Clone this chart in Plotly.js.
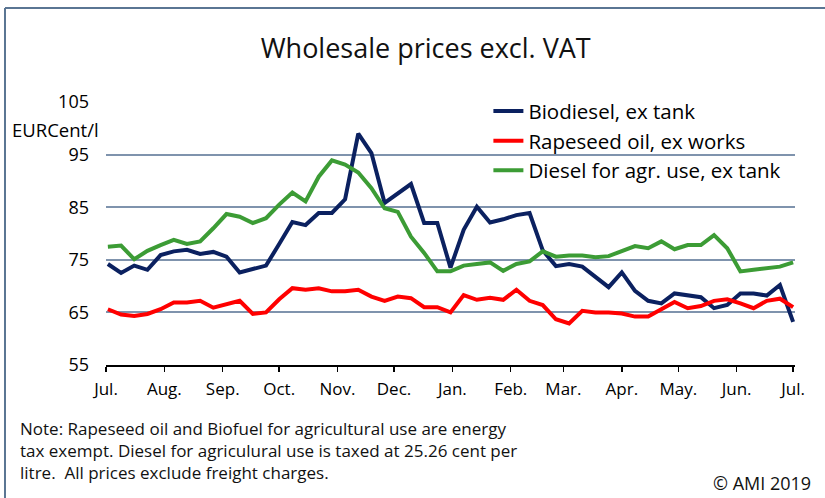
<!DOCTYPE html>
<html>
<head>
<meta charset="utf-8">
<script src="https://cdn.plot.ly/plotly-3.0.1.min.js"></script>
<style>
html,body{margin:0;padding:0;background:#fff;}
#chart{width:825px;height:498px;}
</style>
</head>
<body>
<div id="chart"></div>
<script>
// Weekly observation dates
var weeks = [
  "2018-07-02","2018-07-09","2018-07-16","2018-07-23","2018-07-30",
  "2018-08-06","2018-08-13","2018-08-20","2018-08-27",
  "2018-09-03","2018-09-10","2018-09-17","2018-09-24",
  "2018-10-01","2018-10-08","2018-10-15","2018-10-22","2018-10-29",
  "2018-11-05","2018-11-12","2018-11-19","2018-11-26",
  "2018-12-03","2018-12-10","2018-12-17","2018-12-24","2018-12-31",
  "2019-01-07","2019-01-14","2019-01-21","2019-01-28",
  "2019-02-04","2019-02-11","2019-02-18","2019-02-25",
  "2019-03-04","2019-03-11","2019-03-18","2019-03-25",
  "2019-04-01","2019-04-08","2019-04-15","2019-04-22","2019-04-29",
  "2019-05-06","2019-05-13","2019-05-20","2019-05-27",
  "2019-06-03","2019-06-10","2019-06-17","2019-06-24",
  "2019-07-01"
];

// EURCent/l
var biodiesel = [
  74.2,72.5,73.9,73.1,75.9,76.6,76.9,76.1,76.5,75.6,72.6,73.2,73.9,
  78.0,82.2,81.6,83.9,83.9,86.5,99.0,95.3,85.8,87.5,89.4,82.0,82.0,73.5,
  80.7,85.1,82.1,82.7,83.5,83.9,76.8,73.8,74.2,73.7,71.8,69.8,72.6,69.1,
  67.2,66.7,68.6,68.3,67.9,65.8,66.4,68.6,68.6,68.2,70.2,63.2
];
var rapeseedOil = [
  65.6,64.6,64.3,64.7,65.6,66.9,66.9,67.2,65.9,66.6,67.2,64.7,65.0,
  67.5,69.6,69.3,69.6,69.0,69.0,69.3,68.0,67.2,68.0,67.7,66.0,66.0,65.0,
  68.3,67.4,67.8,67.4,69.3,67.2,66.4,63.7,62.9,65.3,65.0,65.0,64.8,64.2,
  64.2,65.6,67.0,65.8,66.2,67.2,67.5,66.7,65.8,67.2,67.6,66.0
];
var dieselAgr = [
  77.5,77.7,75.1,76.7,77.8,78.8,78.0,78.5,81.0,83.7,83.2,82.0,82.9,
  85.5,87.8,86.1,90.8,93.9,93.1,91.6,88.6,84.8,84.1,79.4,76.3,72.8,72.8,
  73.9,74.2,74.5,72.9,74.2,74.7,76.6,75.6,75.8,75.8,75.5,75.7,76.6,77.6,
  77.2,78.5,77.0,77.8,77.8,79.7,77.2,72.8,73.1,73.4,73.7,74.5
];

var seriesNames = ["Biodiesel, ex tank","Rapeseed oil, ex works","Diesel for agr. use, ex tank"];

var monthTicks = ["2018-07-01","2018-08-01","2018-09-01","2018-10-01","2018-11-01","2018-12-01",
  "2019-01-01","2019-02-01","2019-03-01","2019-04-01","2019-05-01","2019-06-01","2019-07-01"];
var monthLabels = ["Jul.","Aug.","Sep.","Oct.","Nov.","Dec.","Jan.","Feb.","Mar.","Apr.","May.","Jun.","Jul."];
var yTicks = [55,65,75,85,95,105];

var FONT = "Open Sans, Noto Sans, DejaVu Sans, sans-serif";

var traces = [
  {x: weeks, y: biodiesel, name: seriesNames[0], type: "scatter", mode: "lines",
   line: {color: "#0b2160", width: 4}},
  {x: weeks, y: rapeseedOil, name: seriesNames[1], type: "scatter", mode: "lines",
   line: {color: "#ff0000", width: 4}},
  {x: weeks, y: dieselAgr, name: seriesNames[2], type: "scatter", mode: "lines",
   line: {color: "#3c9c35", width: 4}}
];

var layout = {
  width: 825, height: 498,
  margin: {l: 106, r: 30, t: 102, b: 133},
  paper_bgcolor: "#ffffff", plot_bgcolor: "#ffffff",
  font: {family: FONT, color: "#000"},
  title: {text: "Wholesale prices excl. VAT", font: {family: FONT, size: 27, color: "#111"},
          xref: "container", x: 0.516, xanchor: "center", yref: "container", y: 0.903, yanchor: "middle"},
  showlegend: true,
  legend: {x: 0.555, y: 1.041, xanchor: "left", yanchor: "top", bgcolor: "rgba(0,0,0,0)",
           font: {family: FONT, size: 20.5, color: "#000"}, tracegroupgap: 0},
  xaxis: {
    type: "date", range: ["2018-07-01", "2019-07-02"],
    tickmode: "array", tickvals: monthTicks, ticktext: monthLabels,
    showgrid: false, zeroline: false,
    showline: true, linecolor: "#000", linewidth: 1.5,
    ticks: "outside", ticklen: 5, tickwidth: 1.5, tickcolor: "#000",
    ticklabelstandoff: 3,
    tickfont: {family: FONT, size: 17, color: "#000"}
  },
  yaxis: {
    range: [55, 105], tickmode: "array", tickvals: yTicks,
    showgrid: true, gridcolor: "#7f93ad", gridwidth: 2,
    zeroline: false, showline: false, ticks: "",
    ticklabelstandoff: 16,
    tickfont: {family: FONT, size: 18, color: "#000"}
  },
  shapes: [
    {type: "line", xref: "paper", yref: "paper", x0: -0.1466, x1: -0.1466, y0: 1.3574, y1: -0.52,
     line: {color: "#5a7593", width: 2}},
    {type: "line", xref: "paper", yref: "paper", x0: -0.1466, x1: 1.06, y0: 1.3574, y1: 1.3574,
     line: {color: "#5a7593", width: 2}}
  ],
  annotations: [
    {text: "EURCent/l", xref: "paper", yref: "paper", x: -0.14, y: 0.897, xanchor: "left", yanchor: "middle",
     showarrow: false, font: {family: FONT, size: 18.5, color: "#000"}},
    {text: "Note: Rapeseed oil and Biofuel for agricultural use are energy<br>tax exempt. Diesel for agriculural use is taxed at 25.26 cent per<br>litre.  All prices exclude freight charges.",
     xref: "paper", yref: "paper", x: -0.127, y: -0.1886, xanchor: "left", yanchor: "top", align: "left",
     showarrow: false, font: {family: FONT, size: 17, color: "#111"}},
    {text: "© AMI 2019", xref: "paper", yref: "paper", x: 1.026, y: -0.449, xanchor: "right", yanchor: "middle",
     showarrow: false, font: {family: FONT, size: 18, color: "#111"}}
  ]
};

Plotly.newPlot("chart", traces, layout, {displayModeBar: false, staticPlot: true});
</script>
</body>
</html>
